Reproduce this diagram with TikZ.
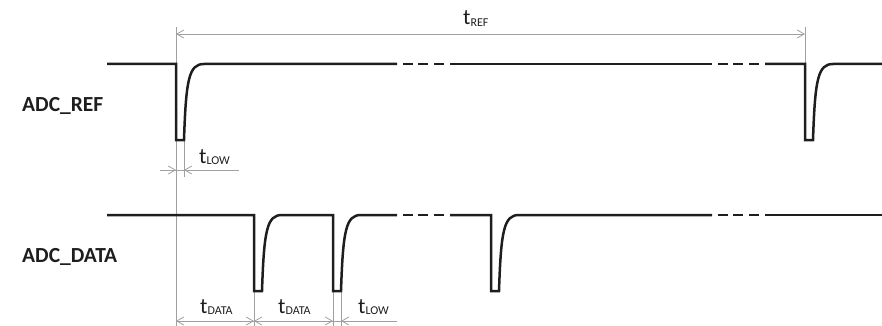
\documentclass[tikz,border=0pt]{standalone}
\usepackage{fontspec}
\setmainfont{Carlito}
\usetikzlibrary{arrows.meta}
\definecolor{dimgray}{RGB}{160,160,160}
\definecolor{sigcol}{RGB}{30,30,30}
\newcommand{\sigpulse}[2]{-- (#1,#2) -- (#1,#2+76) -- (#1+8,#2+76) .. controls (#1+10,#2+15) and (#1+13,#2) .. (#1+28,#2)}
\newcommand{\tlab}[1]{{\fontsize{22}{22}\selectfont t}\raisebox{-1.5pt}{\fontsize{12}{12}\selectfont #1}}
\begin{document}
\begin{tikzpicture}[x=1pt,y=-1pt,
  sig/.style={draw=sigcol,line width=2.5pt,line join=miter,line cap=butt},
  dim/.style={draw=dimgray,line width=0.8pt},
  tip/.style={dim,-{Straight Barb[length=7pt,width=8pt]}},
  siglabel/.style={font=\bfseries\fontsize{21.5}{22}\selectfont,anchor=base west,inner sep=0pt,text=sigcol},
  tlabel/.style={anchor=base west,inner sep=0pt,text=sigcol}]
\useasboundingbox (0,0) rectangle (882,326);
% dimension coordinates
\coordinate (r0t) at (176,27);
\coordinate (r0b) at (176,326);
\coordinate (r1t) at (805,27);
\coordinate (r1b) at (805,64);
\coordinate (l1t) at (184,140);
\coordinate (l1b) at (184,177);
\coordinate (d1t) at (254,291);
\coordinate (d1b) at (254,326);
\coordinate (d2t) at (333,291);
\coordinate (d2b) at (333,326);
\coordinate (d3t) at (341,291);
\coordinate (d3b) at (341,326);
\coordinate (refA) at (176,34);
\coordinate (refB) at (805,34);
\coordinate (lowA) at (160,170);
\coordinate (lowB) at (239,170);
\coordinate (botA) at (176,321);
\coordinate (botB) at (397,321);
% extension lines
\draw[dim] (r0t) -- (r0b);
\draw[dim] (r1t) -- (r1b);
\draw[dim] (l1t) -- (l1b);
\draw[dim] (d1t) -- (d1b);
\draw[dim] (d2t) -- (d2b);
\draw[dim] (d3t) -- (d3b);
% dimension lines
\draw[dim,{Straight Barb[length=7pt,width=8pt]}-{Straight Barb[length=7pt,width=8pt]}] (refA) -- (refB);
\draw[dim] (lowA) -- (lowB);
\draw[tip] (166,170) -- (176,170);
\draw[tip] (194,170) -- (184,170);
\draw[dim] (botA) -- (botB);
\draw[tip] (186,321) -- (176,321);
\draw[tip] (244,321) -- (254,321);
\draw[tip] (264,321) -- (254,321);
\draw[tip] (323,321) -- (333,321);
\draw[tip] (351,321) -- (341,321);
% labels of dimensions
\node[tlabel] (tref) at (463,25) {\tlab{REF}};
\node[tlabel] (tlow1) at (199,163) {\tlab{LOW}};
\node[tlabel] (tdata1) at (200,313) {\tlab{DATA}};
\node[tlabel] (tdata2) at (278,313) {\tlab{DATA}};
\node[tlabel] (tlow2) at (358,313) {\tlab{LOW}};
% signal names
\node[siglabel] (adcref) at (22,111) {ADC\_REF};
\node[siglabel] (adcdata) at (22,262) {ADC\_DATA};
% ADC_REF signal
\path[sig] (107,64) \sigpulse{176}{64} -- (397,64);
\path[sig] (403,64) -- (413,64) (418,64) -- (428,64) (434,64) -- (444,64);
\path[sig] (450,64) -- (712,64);
\path[sig] (718,64) -- (728,64) (733,64) -- (743,64) (749,64) -- (759,64);
\path[sig] (765,64) \sigpulse{805}{64} -- (882,64);
% ADC_DATA signal
\path[sig] (107,215) \sigpulse{254}{215} \sigpulse{333}{215} -- (397,215);
\path[sig] (403,215) -- (413,215) (418,215) -- (428,215) (434,215) -- (444,215);
\path[sig] (450,215) \sigpulse{491}{215} -- (712,215);
\path[sig] (718,215) -- (728,215) (733,215) -- (743,215) (749,215) -- (759,215);
\path[sig] (765,215) -- (882,215);
\end{tikzpicture}
\end{document}
